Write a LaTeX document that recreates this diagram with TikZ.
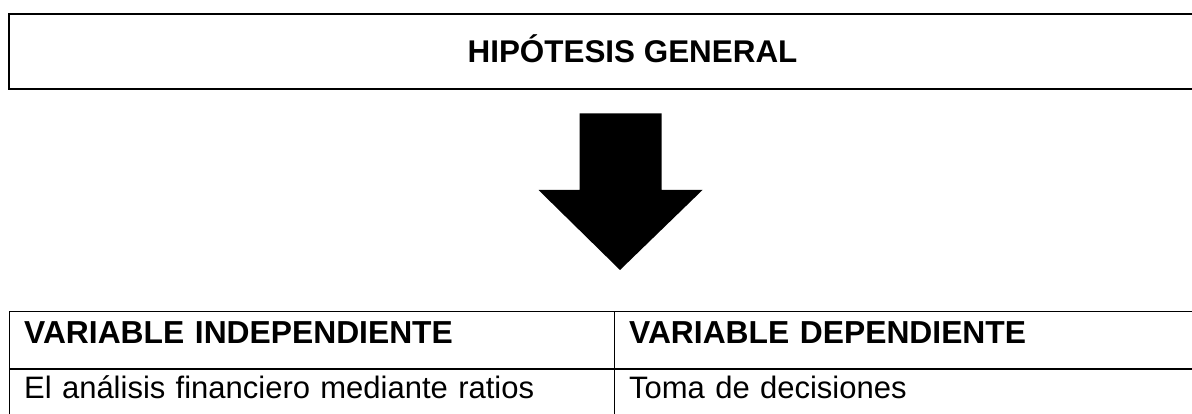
\documentclass[tikz,border=0pt]{standalone}
\usepackage{fontspec}
\setmainfont{Liberation Sans}
\begin{document}
\begin{tikzpicture}[x=1pt, y=-1pt,
  cell/.style={draw, line width=1.3pt, anchor=north west, inner xsep=15pt, inner ysep=0pt,
    text width=575pt, minimum height=57pt, font=\fontsize{31}{36}\selectfont},
  head/.style={cell, text height=32.5pt, text depth=24.5pt, font=\bfseries\fontsize{31.8}{36}\selectfont},
  body/.style={cell, text height=29.5pt, text depth=27.5pt}]
\useasboundingbox (0,0) rectangle (1192,414);
\clip (0,0) rectangle (1192,414);
% hipotesis
\node[draw, line width=2pt, minimum width=1247pt, minimum height=75pt, text height=22pt, text depth=0pt,
  font=\bfseries\fontsize{31.4}{36}\selectfont] (hip) at (632.5,52) {HIPÓTESIS GENERAL};
% flecha
\fill (579.5,113.5) -- (661.5,113.5) -- (661.5,190) -- (702.5,190) -- (620,270) -- (538.5,190) -- (579.5,190) -- cycle;
% tabla
\node[head] (vi) at (8.5,310.5) {VARIABLE INDEPENDIENTE};
\node[head] (vd) at (613.5,310.5) {VARIABLE DEPENDIENTE};
\node[body] (vi1) at (vi.south west) {El análisis financiero mediante ratios};
\node[body] (vd1) at (vd.south west) {Toma de decisiones};
\end{tikzpicture}
\end{document}
